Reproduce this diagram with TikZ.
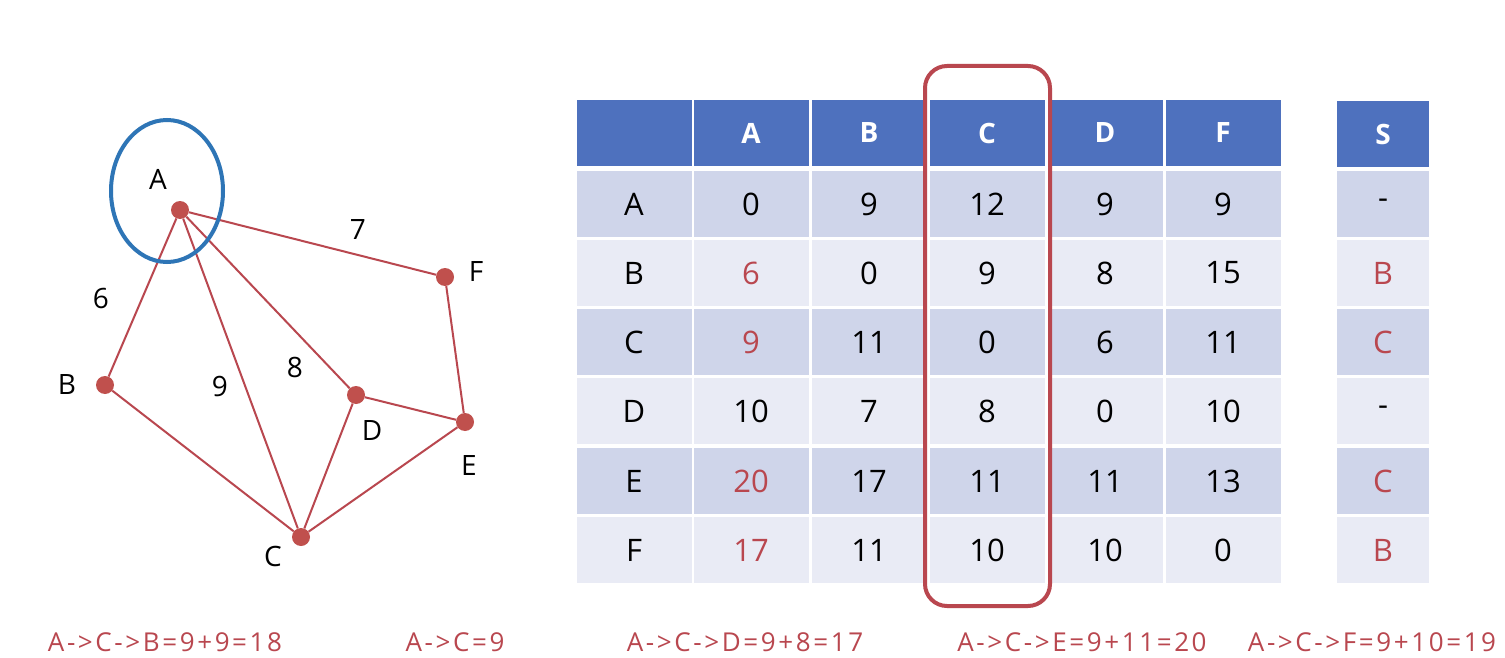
\documentclass[tikz,border=0pt]{standalone}
\usepackage{fontspec}
\setmainfont{Open Sans}
\newfontfamily\sumfont[LetterSpace=10]{Open Sans}
\usepackage{tikz}
\definecolor{hdblue}{HTML}{4E71BE}
\definecolor{rowdark}{HTML}{CFD5EA}
\definecolor{rowlight}{HTML}{E9EBF5}
\definecolor{pathred}{HTML}{B9474F}
\definecolor{dotred}{HTML}{C0504D}
\definecolor{ringblue}{HTML}{2E75B6}
\tikzset{
         vertex/.style={circle,fill=dotred,inner sep=0pt,minimum size=18pt},
         vlabel/.style={font=\fontsize{28}{32}\selectfont,inner sep=0pt},
         edge/.style={draw=pathred,line width=2pt},
         hcell/.style={fill=hdblue,text=white,font=\fontsize{28}{32}\selectfont\bfseries,
                       minimum width=115pt,minimum height=66pt,inner sep=0pt},
         dcell/.style={fill=rowdark,font=\fontsize{31}{36}\selectfont,
                       minimum width=115pt,minimum height=66pt,inner sep=0pt},
         lcell/.style={dcell,fill=rowlight},
         hit/.style={text=pathred},
         sumtext/.style={font=\sumfont\fontsize{26}{30}\selectfont,text=pathred,inner sep=0pt}
        }

\begin{document}
\begin{tikzpicture}[x=1pt,y=-1pt]
\useasboundingbox[fill=white](0,0) rectangle (1505,658);
%graph
\node[vertex](vA)at(180,210){};
\node[vertex](vB)at(105,385){};
\node[vertex](vC)at(301,537){};
\node[vertex](vD)at(356,395){};
\node[vertex](vE)at(465,422){};
\node[vertex](vF)at(445,277){};
\draw[edge](vA)--(vB);
\draw[edge](vA)--(vC);
\draw[edge](vA)--(vD);
\draw[edge](vA)--(vF);
\draw[edge](vB)--(vC);
\draw[edge](vC)--(vD);
\draw[edge](vC)--(vE);
\draw[edge](vD)--(vE);
\draw[edge](vF)--(vE);
\draw[ringblue,line width=4pt](167,191) ellipse [x radius=56pt,y radius=71pt];
\node[vlabel](tA)at(158,179){A};
\node[vlabel](tB)at(67,385){B};
\node[vlabel](tC)at(273,556){C};
\node[vlabel](tD)at(372,431){D};
\node[vlabel](tE)at(469,466){E};
\node[vlabel](tF)at(476,272){F};
\node[vlabel](w7)at(358,230){7};
\node[vlabel](w6)at(101,298){6};
\node[vlabel](w9)at(220,386){9};
\node[vlabel](w8)at(295,367){8};
%table header
\node[hcell](hX)at(634,133){};
\node[hcell](hA)at(751,133){A};
\node[hcell](hB)at(869,133){B};
\node[hcell](hC)at(987,133){C};
\node[hcell](hD)at(1105,133){D};
\node[hcell](hF)at(1223,133){F};
\node[hcell,minimum width=92pt](hS)at(1383,134){S};
%row A
\node[dcell](rA)at(634,204){A};
\node[dcell](cAA)at(751,204){0};
\node[dcell](cAB)at(869,204){9};
\node[dcell](cAC)at(987,204){12};
\node[dcell](cAD)at(1105,204){9};
\node[dcell](cAF)at(1223,204){9};
\node[dcell,minimum width=92pt](sA)at(1383,204){-};
%row B
\node[lcell](rB)at(634,273){B};
\node[lcell,hit](cBA)at(751,273){6};
\node[lcell](cBB)at(869,273){0};
\node[lcell](cBC)at(987,273){9};
\node[lcell](cBD)at(1105,273){8};
\node[lcell](cBF)at(1223,273){15};
\node[lcell,hit,minimum width=92pt](sB)at(1383,273){B};
%row C
\node[dcell](rC)at(634,342){C};
\node[dcell,hit](cCA)at(751,342){9};
\node[dcell](cCB)at(869,342){11};
\node[dcell](cCC)at(987,342){0};
\node[dcell](cCD)at(1105,342){6};
\node[dcell](cCF)at(1223,342){11};
\node[dcell,hit,minimum width=92pt](sC)at(1383,342){C};
%row D
\node[lcell](rD)at(634,411){D};
\node[lcell](cDA)at(751,411){10};
\node[lcell](cDB)at(869,411){7};
\node[lcell](cDC)at(987,411){8};
\node[lcell](cDD)at(1105,411){0};
\node[lcell](cDF)at(1223,411){10};
\node[lcell,minimum width=92pt](sD)at(1383,411){-};
%row E
\node[dcell](rE)at(634,481){E};
\node[dcell,hit](cEA)at(751,481){20};
\node[dcell](cEB)at(869,481){17};
\node[dcell](cEC)at(987,481){11};
\node[dcell](cED)at(1105,481){11};
\node[dcell](cEF)at(1223,481){13};
\node[dcell,hit,minimum width=92pt](sE)at(1383,481){C};
%row F
\node[lcell](rF)at(634,550){F};
\node[lcell,hit](cFA)at(751,550){17};
\node[lcell](cFB)at(869,550){11};
\node[lcell](cFC)at(987,550){10};
\node[lcell](cFD)at(1105,550){10};
\node[lcell](cFF)at(1223,550){0};
\node[lcell,hit,minimum width=92pt](sF)at(1383,550){B};
%column C frame
\draw[pathred,line width=4pt,rounded corners=22pt](925,66) rectangle (1050,606);
%sums
\node[sumtext](s1)at(165,642){A->C->B=9+9=18};
\node[sumtext](s2)at(455,642){A->C=9};
\node[sumtext](s3)at(745,642){A->C->D=9+8=17};
\node[sumtext](s4)at(1082,642){A->C->E=9+11=20};
\node[sumtext](s5)at(1372,642){A->C->F=9+10=19};
\end{tikzpicture}
\end{document}
